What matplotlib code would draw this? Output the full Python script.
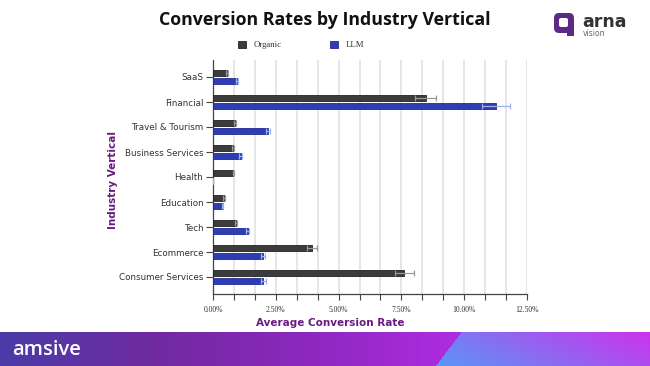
import numpy as np
import matplotlib.pyplot as plt
from matplotlib.patches import FancyBboxPatch, Rectangle
from matplotlib.ticker import MultipleLocator, FuncFormatter

industries = ["SaaS", "Financial", "Travel & Tourism", "Business Services", "Health",
              "Education", "Tech", "Ecommerce", "Consumer Services"]
organic = [0.55, 8.46, 0.88, 0.78, 0.81, 0.44, 0.92, 3.94, 7.61]
organic_err = [0.03, 0.42, 0.04, 0.04, 0.03, 0.03, 0.04, 0.20, 0.38]
llm = [0.94, 11.27, 2.20, 1.10, 0.0, 0.39, 1.39, 1.99, 2.00]
llm_err = [0.04, 0.57, 0.08, 0.05, 0.0, 0.02, 0.06, 0.08, 0.09]

W, H = 650, 366
fig = plt.figure(figsize=(W / 100, H / 100), dpi=100)
fig.patch.set_facecolor("white")


def px(x0, y0, x1, y1):
    # pixel box (top-left origin) -> figure fraction rect
    return [x0 / W, 1 - y1 / H, (x1 - x0) / W, (y1 - y0) / H]


ax = fig.add_axes(px(213, 60, 527, 294))
y = np.arange(len(industries))
bh = 0.24
ax.barh(y - 0.15, organic, height=bh, color="#3c3c3c", edgecolor="#222222",
        linewidth=0.6, label="Organic", zorder=3)
ax.barh(y + 0.17, llm, height=bh, color="#2f3db5", edgecolor="#1f2b92",
        linewidth=0.6, label="LLM", zorder=3)
ax.errorbar(organic, y - 0.15, xerr=organic_err, fmt="none", ecolor="#9a9a9a",
            elinewidth=0.9, capsize=2.5, capthick=0.9, zorder=4)
ax.errorbar(llm, y + 0.17, xerr=llm_err, fmt="none", ecolor="#9fb0ea",
            elinewidth=0.9, capsize=2.5, capthick=0.9, zorder=4)

ax.set_xlim(0, 12.5)
ax.set_ylim(8.68, -0.68)
ax.set_yticks(y)
ax.set_yticklabels(industries, fontsize=6.3, color="#333333", family="DejaVu Sans")
ax.xaxis.set_major_locator(MultipleLocator(2.5 / 3))
ax.xaxis.set_major_formatter(FuncFormatter(
    lambda v, p: f"{v:.2f}%" if abs(v / 2.5 - round(v / 2.5)) < 1e-6 else ""))
for lab in ax.get_xticklabels():
    lab.set_family("Liberation Serif")
    lab.set_fontsize(5.5)
    lab.set_color("#333333")
ax.tick_params(axis="x", length=4, width=0.8, color="#444444", pad=5)
ax.tick_params(axis="y", length=5, width=0.8, color="#444444", pad=2)
ax.grid(axis="x", color="#e2e2e2", linewidth=1.2, zorder=0)
ax.set_axisbelow(True)
for s in ("top", "right"):
    ax.spines[s].set_visible(False)
for s in ("left", "bottom"):
    ax.spines[s].set_color("#444444")
    ax.spines[s].set_linewidth(0.9)

ax.set_xlabel("Average Conversion Rate", fontsize=7.5, fontweight="bold",
              color="#6a1a80")
ax.xaxis.set_label_coords((330 - 213) / 314, -(323 - 294) / 234)
ax.xaxis.label.set_va("center")
ax.set_ylabel("Industry Vertical", fontsize=7.5, fontweight="bold",
              color="#6a1a80")
ax.yaxis.set_label_coords((113 - 213) / 314, (294 - 180) / 234)
ax.yaxis.label.set_va("center")

leg = fig.legend(loc="center", bbox_to_anchor=(301 / W, 1 - 45 / H), ncol=2,
                 frameon=False, handlelength=0.9, handleheight=0.9,
                 columnspacing=5.5, handletextpad=0.9,
                 prop={"family": "Liberation Serif", "size": 6.3})
for t in leg.get_texts():
    t.set_color("#333333")

fig.text(325 / W, 1 - 20 / H, "Conversion Rates by Industry Vertical",
         ha="center", va="center", fontsize=12.8, fontweight="bold",
         family="Open Sans", color="#111111")

# arna vision logo
lax = fig.add_axes([0, 0, 1, 1], zorder=5)
lax.set_xlim(0, W)
lax.set_ylim(H, 0)
lax.axis("off")
lax.add_patch(FancyBboxPatch((554, 13), 20, 20, boxstyle="round,pad=0,rounding_size=5",
                             facecolor="#5b2a86", edgecolor="none"))
lax.add_patch(Rectangle((567, 27), 7, 9, facecolor="#5b2a86", edgecolor="none"))
lax.add_patch(FancyBboxPatch((559, 18), 9, 9, boxstyle="round,pad=0,rounding_size=2",
                             facecolor="white", edgecolor="none"))
lax.text(582, 22, "arna", fontsize=12.5, fontweight="bold", family="DejaVu Sans",
         color="#333333", va="center", ha="left")
lax.text(583, 34, "vision", fontsize=5.5, family="DejaVu Sans",
         color="#666666", va="center", ha="left")

# bottom gradient banner
top, bot = 332, 366
xs = np.arange(W)[None, :].astype(float)
ys = np.arange(top, bot)[:, None].astype(float)
left_stops = np.array([[74, 60, 168], [112, 42, 160], [140, 40, 190], [176, 44, 226]]) / 255
lp = np.clip(xs / 460.0, 0, 1) * 3
idx = np.minimum(lp.astype(int), 2)
frac = (lp - idx)[..., None]
left_img = left_stops[idx] * (1 - frac) + left_stops[idx + 1] * frac
left_img = np.broadcast_to(left_img, (bot - top, W, 3))
t = np.clip(((xs - 435) / 215.0 + (bot - ys) / (bot - top) * 0.35) / 1.35, 0, 1)[..., None]
c0 = np.array([88, 152, 246]) / 255
c1 = np.array([205, 50, 236]) / 255
right_img = c0 * (1 - t) + c1 * t
diag_x = 435 + (bot - ys) / (bot - top) * 26
img = np.where((xs >= diag_x)[..., None], right_img, left_img)
lax.imshow(img, extent=(0, W, bot, top), aspect="auto", zorder=1)
lax.set_xlim(0, W)
lax.set_ylim(H, 0)
lax.text(12, 350, "amsive", fontsize=14.5, family="Open Sans", fontweight="semibold",
         color="white", va="center", ha="left", zorder=2)

fig.savefig("out.png", dpi=100)
